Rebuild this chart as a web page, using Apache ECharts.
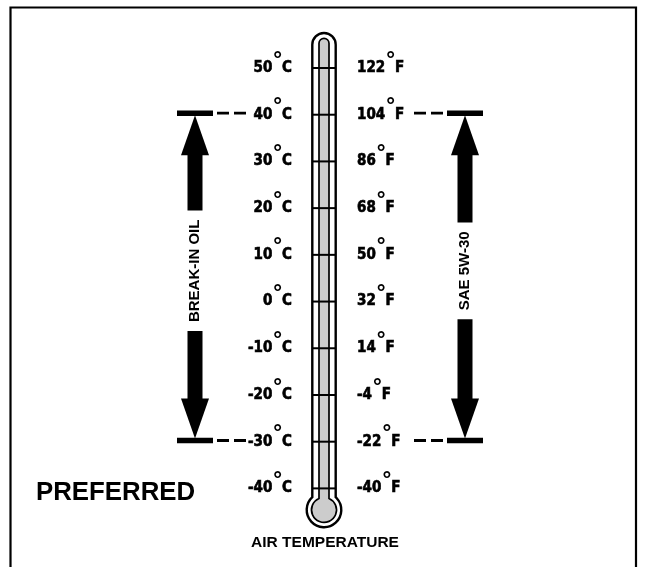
<!DOCTYPE html>
<html>
<head>
<meta charset="utf-8">
<script src="https://cdn.jsdelivr.net/npm/echarts@6/dist/echarts.min.js"></script>
<style>
html, body { margin: 0; padding: 0; background: #fff; }
#chart { width: 646px; height: 567px; }
</style>
</head>
<body>
<div id="chart"></div>
<script>
// 温度刻度
var celsiusTicks = [50, 40, 30, 20, 10, 0, -10, -20, -30, -40];
var fahrenheitTicks = [122, 104, 86, 68, 50, 32, 14, -4, -22, -40];
// 机油适用温度范围 (°C)
var oilNames = ['BREAK-IN OIL', 'SAE 5W-30'];
var oilLow = [-30, -30];
var oilHigh = [40, 40];

var numFont = '"Liberation Sans Narrow", "DejaVu Sans Condensed", sans-serif';
var textFont = '"Liberation Sans", Arial, sans-serif';
var arrowOffset = [-129, 141]; // 箭头中心相对温度计中心 (px)
var oh = 11.7, ih = 5;         // 管子半宽
var oR = 17.3, iR = 12.5;      // 球泡半径

function degreeLabel(v, unit) {
    return '{n|' + v + '}{d|°}{n|' + unit + '}';
}

var labelRich = {
    n: { fontFamily: numFont, fontWeight: 'bold', fontSize: 15, color: '#000',
         textBorderColor: '#000', textBorderWidth: 0.6 },
    d: { fontFamily: textFont, fontWeight: 'bold', fontSize: 22, color: '#000', padding: [0, 0, 15, 1] }
};

// 温度计外形
function renderTube(params, api) {
    var top = api.coord([0, celsiusTicks[0]]);
    var bottom = api.coord([0, celsiusTicks[celsiusTicks.length - 1]]);
    var cx = top[0];
    var domeO = top[1] - 23.3;
    var domeI = top[1] - 24.7;
    var bulbY = bottom[1] + 21.5;
    var oy = bulbY - Math.sqrt(oR * oR - oh * oh);
    var iy = bulbY - Math.sqrt(iR * iR - ih * ih);
    var outer = 'M' + (cx - oh) + ' ' + domeO + ' L' + (cx - oh) + ' ' + oy +
        ' A' + oR + ' ' + oR + ' 0 1 0 ' + (cx + oh) + ' ' + oy +
        ' L' + (cx + oh) + ' ' + domeO +
        ' A' + oh + ' ' + oh + ' 0 0 0 ' + (cx - oh) + ' ' + domeO + ' Z';
    var inner = 'M' + (cx - ih) + ' ' + domeI + ' L' + (cx - ih) + ' ' + iy +
        ' A' + iR + ' ' + iR + ' 0 1 0 ' + (cx + ih) + ' ' + iy +
        ' L' + (cx + ih) + ' ' + domeI +
        ' A' + ih + ' ' + ih + ' 0 0 0 ' + (cx - ih) + ' ' + domeI + ' Z';
    return {
        type: 'group',
        children: [
            { type: 'path', shape: { pathData: outer }, style: { fill: '#fff', stroke: '#000', lineWidth: 2.4 } },
            { type: 'path', shape: { pathData: inner }, style: { fill: '#cccccc', stroke: '#000', lineWidth: 1.7 } }
        ]
    };
}

// 刻度线
function renderTick(params, api) {
    var p = api.coord([0, api.value(1)]);
    return {
        type: 'line',
        shape: { x1: p[0] - oh, y1: p[1], x2: p[0] + oh, y2: p[1] },
        style: { stroke: '#000', lineWidth: 2 }
    };
}

// 范围箭头
function renderArrow(params, api) {
    var i = api.value(0);
    var lo = api.coord([0, api.value(1)]);
    var hi = api.coord([0, api.value(2)]);
    var ax = lo[0] + arrowOffset[i];
    var s = arrowOffset[i] < 0 ? 1 : -1;
    var yH = hi[1] - 1.5, yL = lo[1] - 1.2;
    var head = 42;
    var black = { fill: '#000' };
    return {
        type: 'group',
        children: [
            { type: 'rect', shape: { x: ax - 18, y: yH - 2.8, width: 36, height: 5.6 }, style: black },
            { type: 'rect', shape: { x: ax - 18, y: yL - 2.8, width: 36, height: 5.6 }, style: black },
            { type: 'line', shape: { x1: ax + s * 22, y1: yH, x2: ax + s * 51, y2: yH },
              style: { stroke: '#000', lineWidth: 2.8, lineDash: [12, 5] } },
            { type: 'line', shape: { x1: ax + s * 22, y1: yL, x2: ax + s * 51, y2: yL },
              style: { stroke: '#000', lineWidth: 2.8, lineDash: [12, 5] } },
            { type: 'polygon', shape: { points: [[ax, yH + 2], [ax - 14, yH + head], [ax + 14, yH + head]] }, style: black },
            { type: 'polygon', shape: { points: [[ax, yL - 2], [ax - 14, yL - head], [ax + 14, yL - head]] }, style: black },
            { type: 'rect', shape: { x: ax - 7.5, y: yH + head - 1, width: 15, height: (yL - head) - (yH + head) + 2 }, style: black },
            { type: 'text', x: ax, y: (yH + yL) / 2 - 6, rotation: Math.PI / 2,
              style: { text: oilNames[i], x: 0, y: 0, align: 'center', verticalAlign: 'middle',
                       font: 'bold 15px ' + textFont, fill: '#000',
                       backgroundColor: '#fff', padding: [6, 9] } }
        ]
    };
}

var myChart = echarts.init(document.getElementById('chart'));
var option = {
    animation: false,
    backgroundColor: '#fff',
    grid: { left: 312, top: 68, width: 24, height: 420.4 },
    xAxis: { type: 'value', min: -1, max: 1, show: false },
    yAxis: [{
        type: 'value', min: -40, max: 50, interval: 10, position: 'left',
        axisLine: { show: false }, axisTick: { show: false }, splitLine: { show: false },
        axisLabel: {
            margin: 20, showMinLabel: true, showMaxLabel: true, hideOverlap: false,
            formatter: function (v) { return degreeLabel(v, 'C'); },
            rich: labelRich
        }
    }, {
        type: 'value', min: -40, max: 50, interval: 10, position: 'right',
        axisLine: { show: false }, axisTick: { show: false }, splitLine: { show: false },
        axisLabel: {
            margin: 21, showMinLabel: true, showMaxLabel: true, hideOverlap: false,
            formatter: function (v) {
                return degreeLabel(fahrenheitTicks[celsiusTicks.indexOf(v)], 'F');
            },
            rich: labelRich
        }
    }],
    graphic: [
        { type: 'rect', shape: { x: 10.5, y: 7.5, width: 625.5, height: 600 },
          style: { fill: 'none', stroke: '#000', lineWidth: 2.2 }, z: 10 },
        { type: 'text', x: 36, y: 493,
          style: { text: 'PREFERRED', font: 'bold 25.8px ' + textFont, fill: '#000', verticalAlign: 'middle' } },
        { type: 'text', x: 325, y: 543,
          style: { text: 'AIR TEMPERATURE', font: 'bold 15.5px ' + textFont, fill: '#000', align: 'center', verticalAlign: 'middle' } }
    ],
    series: [{
        type: 'custom', name: 'tube', renderItem: renderTube, data: [[0, 0]], z: 1, silent: true
    }, {
        type: 'custom', name: 'ticks', renderItem: renderTick, z: 3, silent: true,
        data: celsiusTicks.map(function (v) { return [0, v]; })
    }, {
        type: 'custom', name: 'ranges', renderItem: renderArrow, z: 3, silent: true,
        data: oilNames.map(function (n, i) { return [i, oilLow[i], oilHigh[i]]; })
    }]
};
option && myChart.setOption(option);
</script>
</body>
</html>
